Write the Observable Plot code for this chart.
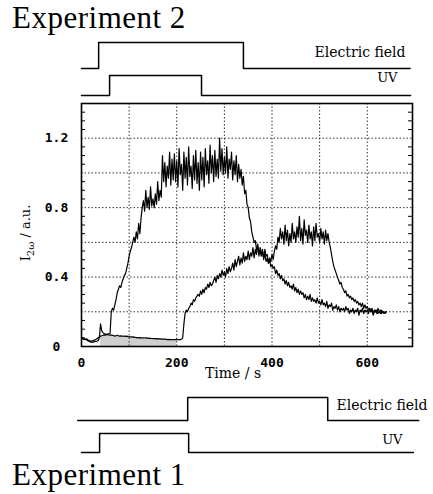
<!DOCTYPE html>
<html><head><meta charset="utf-8">
<script src="https://cdn.jsdelivr.net/npm/d3@7"></script>
<script src="https://cdn.jsdelivr.net/npm/@observablehq/plot@0.6"></script>
<style>
body{margin:0;background:#fff;}
#root{position:relative;width:433px;height:494px;overflow:hidden;background:#fff;}
.title{position:absolute;left:12px;font-family:"Liberation Serif","Times New Roman",serif;font-size:31px;letter-spacing:0.5px;line-height:35px;color:#000;white-space:nowrap;}
.ylab{position:absolute;left:27px;top:233px;transform:translate(-50%,-50%) rotate(-90deg);font-family:"DejaVu Serif",serif;font-size:13px;white-space:nowrap;color:#000;}
.ylab sub{font-size:10px;}
.slot{position:absolute;left:0;}
</style></head><body>
<div id="root">
  <div class="title" style="top:0px">Experiment 2</div>
  <div class="title" style="top:457px">Experiment 1</div>
  <div class="ylab">I<sub>2ω</sub> / a.u.</div>
</div>
<script>
// ---- data (time in s, signal in a.u.) ----
const times = [
  0,2.5,5,7.5,10,12.5,15,17.5,20,22.5,25,27.5,30,32.5,35,37.5,40,42.5,45,47.5,
  50,52.5,55,57.5,60,62.5,65,67.5,70,72.5,75,77.5,80,82.5,85,87.5,90,92.5,95,97.5,
  100,102.5,105,107.5,110,112.5,115,117.5,120,122.5,125,127.5,130,132.5,135,137.5,140,142.5,145,147.5,
  150,152.5,155,157.5,160,162.5,165,167.5,170,172.5,175,177.5,180,182.5,185,187.5,190,192.5,195,197.5,
  200,202.5,205,207.5,210,212.5,215,217.5,220,222.5,225,227.5,230,232.5,235,237.5,240,242.5,245,247.5,
  250,252.5,255,257.5,260,262.5,265,267.5,270,272.5,275,277.5,280,282.5,285,287.5,290,292.5,295,297.5,
  300,302.5,305,307.5,310,312.5,315,317.5,320,322.5,325,327.5,330,332.5,335,337.5,340,342.5,345,347.5,
  350,352.5,355,357.5,360,362.5,365,367.5,370,372.5,375,377.5,380,382.5,385,387.5,390,392.5,395,397.5,
  400,402.5,405,407.5,410,412.5,415,417.5,420,422.5,425,427.5,430,432.5,435,437.5,440,442.5,445,447.5,
  450,452.5,455,457.5,460,462.5,465,467.5,470,472.5,475,477.5,480,482.5,485,487.5,490,492.5,495,497.5,
  500,502.5,505,507.5,510,512.5,515,517.5,520,522.5,525,527.5,530,532.5,535,537.5,540,542.5,545,547.5,
  550,552.5,555,557.5,560,562.5,565,567.5,570,572.5,575,577.5,580,582.5,585,587.5,590,592.5,595,597.5,
  600,602.5,605,607.5,610,612.5,615,617.5,620,622.5,625,627.5,630,632.5,635,637.5,640];

const experiment2 = [
  0.05,0.048,0.045,0.042,0.04,0.035,0.03,0.028,0.025,0.027,0.025,0.03,0.028,0.03,0.035,0.05,0.13,0.09,0.08,0.075,
  0.07,0.072,0.07,0.073,0.075,0.20,0.22,0.21,0.24,0.27,0.31,0.33,0.35,0.34,0.37,0.39,0.41,0.42,0.45,0.48,
  0.52,0.55,0.57,0.60,0.63,0.60,0.66,0.62,0.71,0.65,0.74,0.80,0.84,0.78,0.90,0.80,0.86,0.79,0.92,0.81,
  0.85,0.80,0.88,0.82,0.95,0.84,0.90,0.86,1.10,0.95,1.06,0.92,1.04,0.97,1.12,0.93,1.08,0.96,1.11,0.95,
  1.07,0.92,1.14,0.99,1.05,0.90,1.12,0.97,1.09,0.93,1.15,0.98,1.04,0.91,1.10,0.96,1.13,0.94,1.06,0.90,
  1.12,0.96,1.09,0.92,1.14,0.99,1.07,0.94,1.16,1.00,1.10,0.95,1.13,0.98,1.08,0.97,1.20,1.01,1.14,0.99,
  1.09,1.00,1.15,0.97,1.08,1.02,1.12,0.96,1.07,0.99,1.10,0.95,1.05,0.97,1.02,0.93,0.98,0.88,0.90,0.82,
  0.80,0.74,0.72,0.66,0.63,0.60,0.61,0.56,0.58,0.54,0.55,0.52,0.56,0.51,0.53,0.49,0.51,0.48,0.50,0.46,
  0.47,0.45,0.46,0.42,0.44,0.41,0.42,0.39,0.41,0.38,0.39,0.36,0.38,0.35,0.37,0.34,0.35,0.33,0.36,0.32,
  0.34,0.31,0.33,0.30,0.32,0.30,0.31,0.28,0.30,0.27,0.29,0.27,0.30,0.26,0.28,0.26,0.27,0.25,0.28,0.25,
  0.26,0.24,0.27,0.24,0.25,0.23,0.26,0.22,0.24,0.23,0.25,0.21,0.23,0.22,0.24,0.21,0.23,0.20,0.22,0.21,
  0.22,0.20,0.23,0.21,0.22,0.19,0.21,0.20,0.22,0.19,0.21,0.20,0.22,0.18,0.21,0.20,0.22,0.19,0.21,0.20,
  0.21,0.19,0.22,0.20,0.21,0.18,0.20,0.21,0.19,0.22,0.20,0.19,0.21,0.20,0.19,0.20,0.20];

const experiment1 = [
  0.05,0.045,0.04,0.042,0.045,0.04,0.035,0.033,0.03,0.032,0.035,0.038,0.04,0.045,0.05,0.055,0.06,0.062,0.065,0.066,
  0.065,0.068,0.07,0.067,0.065,0.066,0.065,0.063,0.06,0.062,0.065,0.062,0.06,0.061,0.06,0.059,0.06,0.058,0.06,0.057,
  0.055,0.056,0.055,0.054,0.055,0.053,0.05,0.052,0.05,0.051,0.05,0.049,0.05,0.049,0.05,0.048,0.048,0.047,0.047,0.046,
  0.045,0.046,0.045,0.044,0.045,0.044,0.044,0.043,0.043,0.042,0.042,0.041,0.04,0.041,0.04,0.04,0.04,0.039,0.04,0.04,
  0.04,0.039,0.04,0.04,0.042,0.05,0.13,0.19,0.21,0.20,0.22,0.23,0.25,0.24,0.27,0.26,0.28,0.29,0.30,0.29,
  0.32,0.30,0.33,0.31,0.34,0.33,0.36,0.34,0.37,0.35,0.36,0.38,0.40,0.37,0.41,0.39,0.42,0.40,0.44,0.41,
  0.43,0.40,0.45,0.42,0.46,0.43,0.45,0.48,0.44,0.50,0.46,0.49,0.52,0.47,0.51,0.48,0.54,0.49,0.52,0.50,
  0.55,0.50,0.54,0.52,0.57,0.51,0.56,0.53,0.59,0.52,0.57,0.54,0.55,0.50,0.56,0.52,0.53,0.48,0.51,0.49,
  0.53,0.50,0.55,0.58,0.56,0.63,0.60,0.68,0.62,0.66,0.59,0.70,0.61,0.67,0.58,0.65,0.60,0.71,0.62,0.66,
  0.60,0.69,0.63,0.75,0.61,0.68,0.59,0.73,0.64,0.67,0.60,0.70,0.62,0.66,0.58,0.69,0.61,0.71,0.63,0.65,
  0.60,0.68,0.62,0.66,0.59,0.67,0.61,0.65,0.60,0.57,0.53,0.49,0.46,0.44,0.42,0.40,0.38,0.36,0.37,0.34,
  0.33,0.31,0.32,0.29,0.30,0.28,0.29,0.27,0.28,0.26,0.27,0.25,0.26,0.24,0.25,0.23,0.25,0.22,0.24,0.22,
  0.23,0.21,0.22,0.20,0.22,0.19,0.21,0.20,0.21,0.19,0.20,0.21,0.19,0.20,0.20,0.19,0.20];

const shadedSpan = [40, 200];           // stippled region under the Experiment 1 baseline

const xTickLabels = [0, 200, 400, 600];
const xGridLines = [100, 200, 300, 400, 500, 600];
const yTickLabels = [0, 0.4, 0.8, 1.2];
const yGridLines = [0.2, 0.4, 0.6, 0.8, 1.0, 1.2];
const yMinorTicks = [0.05,0.1,0.15,0.25,0.3,0.35,0.45,0.5,0.55,0.65,0.7,0.75,0.85,0.9,0.95,1.05,1.1,1.15,1.25,1.3,1.35];

// switching sequences (time in s, state 1 = on)
const exp2FieldTimes = [0, 36, 340, 690];
const exp2FieldState = [0, 1, 0, 0];
const exp2UVTimes = [0, 59, 252, 691];
const exp2UVState = [0, 1, 0, 0];
const exp1FieldTimes = [-8, 223, 517, 708];
const exp1FieldState = [0, 1, 0, 0];
const exp1UVTimes = [0, 38, 225, 697];
const exp1UVState = [0, 1, 0, 0];

// ---- build ----
const X_DOMAIN = [0, 695];
const W = 433, ML = 81, MR = 21;
const root = document.getElementById("root");

function place(svg, top) {
  const d = document.createElement("div");
  d.className = "slot";
  d.style.top = top + "px";
  d.appendChild(svg);
  root.appendChild(d);
}

const exp2 = times.map((t, i) => ({t, v: experiment2[i]}));
const exp1 = times.map((t, i) => ({t, v: experiment1[i]}));
const shade = exp1.filter(d => d.t >= shadedSpan[0] && d.t <= shadedSpan[1]);

const frameW = W - ML - MR;
const main = Plot.plot({
  width: W, height: 290,
  marginLeft: ML, marginRight: MR, marginTop: 3, marginBottom: 44,
  x: {domain: X_DOMAIN},
  y: {domain: [0, 1.4]},
  style: {fontFamily: "'DejaVu Sans Mono', monospace", fontSize: "13px", color: "#000", background: "none", overflow: "visible"},
  marks: [
    Plot.areaY(shade, {x: "t", y: "v", fill: "#cfcfcf"}),
    Plot.gridX({ticks: xGridLines, stroke: "#000", strokeOpacity: 0.8, strokeDasharray: "1.5,2"}),
    Plot.gridY({ticks: yGridLines, stroke: "#000", strokeOpacity: 0.8, strokeDasharray: "1.5,2"}),
    Plot.tickY(yMinorTicks, {y: d => d, insetRight: frameW - 4, stroke: "#000"}),
    Plot.tickY(yMinorTicks, {y: d => d, insetLeft: frameW - 4, stroke: "#000"}),
    Plot.line(exp1, {x: "t", y: "v", stroke: "#000", strokeWidth: 1.2}),
    Plot.line(exp2, {x: "t", y: "v", stroke: "#000", strokeWidth: 1.2}),
    Plot.frame({stroke: "#000", strokeWidth: 1.6}),
    Plot.axisX({ticks: xTickLabels, tickSize: 0, tickPadding: 11, tickFormat: d => String(d), fontWeight: "bold", label: null}),
    Plot.axisY({ticks: yTickLabels, tickSize: 0, tickPadding: 25, textAnchor: "middle", tickFormat: d => String(d), fontWeight: "bold", label: null}),
    Plot.text(["Time / s"], {frameAnchor: "bottom", dx: -14, dy: 31, fontFamily: "'DejaVu Serif', serif", fontSize: 14})
  ]
});
place(main, 100);

function trace(ts, states, highPx, lowPx, label, dx, dy, fontSize) {
  const data = ts.map((t, i) => ({t, s: states[i]}));
  const p = Plot.plot({
    width: W, height: (lowPx - highPx) + 12,
    marginLeft: ML, marginRight: MR, marginTop: 8, marginBottom: 4,
    x: {domain: X_DOMAIN, axis: null},
    y: {domain: [0, 1], axis: null},
    style: {background: "none", overflow: "visible"},
    marks: [
      Plot.line(data, {x: "t", y: "s", curve: "step-after", stroke: "#000", strokeWidth: 1.5}),
      Plot.text([label], {frameAnchor: "right", textAnchor: "end", dx, dy, fontFamily: "'DejaVu Serif', serif", fontSize, fill: "#000"})
    ]
  });
  place(p, highPx - 8);
}

trace(exp2FieldTimes, exp2FieldState, 42, 68, "Electric field", -7, -3, 14);
trace(exp2UVTimes, exp2UVState, 75, 95, "UV", -15, -8, 13);
trace(exp1FieldTimes, exp1FieldState, 397, 420, "Electric field", 15, -3.5, 14);
trace(exp1UVTimes, exp1UVState, 433, 452, "UV", -10, -3.5, 13);
</script>
</body></html>
